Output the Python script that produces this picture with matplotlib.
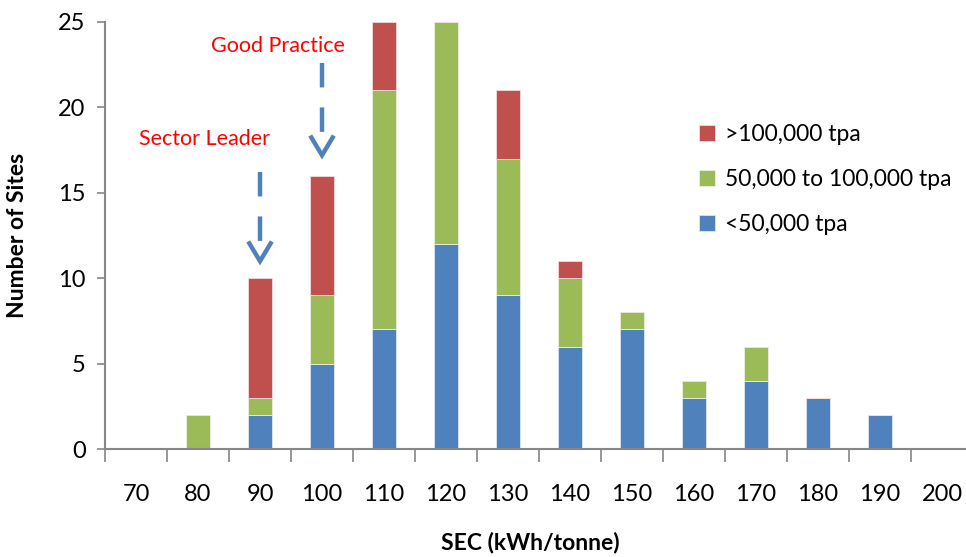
import matplotlib.pyplot as plt
import numpy as np

plt.rcParams['font.family'] = ['Lato', 'DejaVu Sans']

categories = ['70', '80', '90', '100', '110', '120', '130', '140', '150', '160', '170', '180', '190', '200']
small = [0, 0, 2, 5, 7, 12, 9, 6, 7, 3, 4, 3, 2, 0]
medium = [0, 2, 1, 4, 14, 13, 8, 4, 1, 1, 2, 0, 0, 0]
large = [0, 0, 7, 7, 4, 0, 4, 1, 0, 0, 0, 0, 0, 0]

blue = '#4F81BD'
green = '#9BBB59'
red = '#C0504D'

fig = plt.figure(figsize=(9.66, 5.57), dpi=100)
ax = fig.add_axes([105 / 966, 1 - 449 / 557, 868 / 966, 427 / 557])

x = np.arange(len(categories))
small = np.array(small)
medium = np.array(medium)
large = np.array(large)
w = 0.4
ax.bar(x, small, w, color=blue, edgecolor='#DCE6F2', linewidth=0.6, label='<50,000 tpa')
ax.bar(x, medium, w, bottom=small, color=green, edgecolor='#EBF1DE', linewidth=0.6,
       label='50,000 to 100,000 tpa')
ax.bar(x, large, w, bottom=small + medium, color=red, edgecolor='#F2DCDB', linewidth=0.6,
       label='>100,000 tpa')

ax.set_xlim(-0.5, len(categories) - 0.5)
ax.set_ylim(0, 25)
ax.set_yticks([0, 5, 10, 15, 20, 25])
ax.tick_params(axis='y', labelsize=17, length=6, color='#868686', width=1.2, pad=8)

ax.set_xticks(x)
ax.set_xticklabels(categories)
ax.tick_params(axis='x', which='major', length=0, labelsize=17, pad=25)
ax.set_xticks(np.arange(len(categories) + 1) - 0.5, minor=True)
ax.tick_params(axis='x', which='minor', length=9, color='#868686', width=1.2)

for s in ['top', 'right']:
    ax.spines[s].set_visible(False)
for s in ['left', 'bottom']:
    ax.spines[s].set_color('#868686')
    ax.spines[s].set_linewidth(1.5)

ax.set_ylabel('Number of Sites', fontsize=16.5, fontweight='bold')
ax.yaxis.set_label_coords(-0.089, 0.5)
ax.set_xlabel('SEC (kWh/tonne)', fontsize=16.5, fontweight='bold', va='bottom')
ax.xaxis.set_label_coords(0.49, -0.245)

# dashed arrows with chevron heads
arrow_color = '#4F81BD'
for xi, y_top, y_tip in [(2, 16.2, 11.0), (3, 22.6, 17.2)]:
    ax.plot([xi, xi], [y_top, y_tip + 1.0], color=arrow_color, lw=3.2,
            linestyle=(0, (5.5, 4.5)), solid_capstyle='butt', dash_capstyle='butt')
    ax.plot([xi - 0.19, xi, xi + 0.19], [y_tip + 1.15, y_tip, y_tip + 1.15],
            color=arrow_color, lw=3.2, solid_joinstyle='miter', solid_capstyle='butt')

ax.text(1.11, 18.15, 'Sector Leader', color='#FF0000', fontsize=15.5, ha='center', va='center')
ax.text(2.29, 23.6, 'Good Practice', color='#FF0000', fontsize=15.5, ha='center', va='center')

handles, labels = ax.get_legend_handles_labels()
ax.legend(handles[::-1], labels[::-1], loc='upper left', bbox_to_anchor=(0.66, 0.81),
          frameon=False, fontsize=16.5, handlelength=0.7, handleheight=0.7,
          labelspacing=1.05, handletextpad=0.45)

fig.savefig('out.png', dpi=100)
